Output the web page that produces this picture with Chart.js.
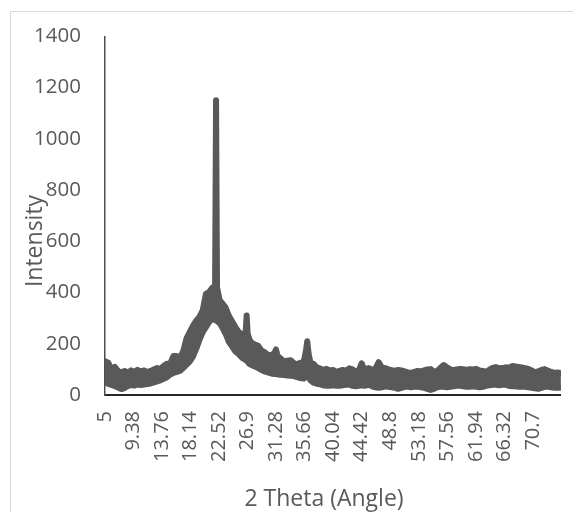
<!DOCTYPE html>
<html>
<head>
<meta charset="utf-8">
<script src="https://cdn.jsdelivr.net/npm/chart.js@4.4.1/dist/chart.umd.min.js"></script>
<style>
  html, body { margin: 0; padding: 0; background: #fff; }
  canvas { display: block; }
</style>
</head>
<body>
<canvas id="xrd" width="573" height="512"></canvas>
<script>
// 2 Theta (deg) sample points, with upper / lower edge of the noisy trace
const theta = [
  5, 5.5, 6, 6.5, 7, 7.5, 8, 8.5, 9, 9.5, 10, 10.5, 11, 11.5, 12, 12.5, 13, 13.5, 14, 14.5,
  15, 15.5, 16, 16.5, 17, 17.5, 18, 18.5, 19, 19.5, 20, 20.5, 21, 21.5, 21.9, 22.05, 22.2, 22.6,
  23, 23.5, 24, 24.5, 25, 25.5, 26, 26.4, 26.6, 26.75, 26.9, 27.2, 27.6, 28, 28.5, 29, 29.5,
  30, 30.5, 31, 31.25, 31.5, 32, 32.5, 33, 33.5, 34, 34.5, 35, 35.5, 35.85, 36.05, 36.25, 36.6,
  37, 37.5, 38, 38.5, 39, 39.5, 40, 40.5, 41, 41.5, 42, 42.5, 43, 43.5, 44, 44.4, 44.8, 45.5,
  46, 46.5, 47, 47.5, 48, 48.5, 49, 49.5, 50, 50.5, 51, 51.5, 52, 52.5, 53, 53.5, 54, 54.5,
  55, 55.5, 56, 56.5, 57, 57.5, 58, 58.5, 59, 59.5, 60, 60.5, 61, 61.5, 62, 62.5, 63, 63.5,
  64, 64.5, 65, 65.5, 66, 66.5, 67, 67.5, 68, 68.5, 69, 69.5, 70, 70.5, 71, 71.5, 72, 72.5,
  73, 73.5, 74, 74.5, 75
];

const upper = [
  132, 126, 100, 110, 94, 88, 94, 87, 96, 90, 98, 92, 96, 89, 94, 100, 105, 102, 113, 122,
  122, 152, 152, 145, 170, 220, 245, 270, 290, 305, 330, 395, 402, 420, 425, 1150, 420, 370,
  358, 342, 310, 288, 266, 246, 238, 236, 250, 310, 240, 215, 202, 197, 193, 174, 167,
  157, 154, 164, 178, 152, 142, 130, 134, 136, 124, 120, 126, 128, 172, 210, 162, 120,
  122, 108, 104, 98, 102, 96, 98, 90, 94, 98, 94, 104, 100, 90, 98, 124, 100, 105,
  98, 102, 128, 108, 105, 100, 97, 94, 98, 96, 92, 88, 86, 90, 94, 92, 96, 100,
  101, 90, 94, 106, 117, 108, 100, 97, 100, 102, 101, 98, 101, 100, 102, 96, 94, 90,
  98, 106, 109, 104, 105, 108, 106, 113, 111, 109, 107, 105, 102, 96, 88, 92, 98, 101,
  95, 90, 86, 88, 86
];

const lower = [
  50, 43, 39, 35, 29, 23, 27, 35, 39, 37, 41, 39, 41, 43, 45, 49, 53, 57, 63, 69,
  80, 86, 90, 94, 105, 118, 130, 150, 180, 215, 245, 265, 285, 300, 292, 290, 288, 280,
  264, 240, 208, 190, 170, 160, 146, 140, 136, 134, 130, 121, 116, 111, 106, 98, 92,
  88, 84, 82, 82, 80, 79, 78, 76, 75, 74, 70, 66, 64, 76, 82, 68, 56,
  48, 44, 42, 38, 36, 36, 38, 36, 36, 38, 40, 40, 36, 34, 36, 38, 36, 40,
  34, 30, 28, 30, 34, 32, 30, 28, 24, 28, 32, 32, 30, 32, 32, 30, 28, 24,
  20, 24, 30, 32, 32, 30, 32, 34, 36, 36, 34, 32, 32, 34, 32, 30, 32, 36,
  38, 40, 40, 38, 40, 40, 36, 34, 34, 32, 32, 32, 30, 28, 26, 24, 28, 32,
  32, 30, 28, 28, 28
];

const xTicks = [5, 9.38, 13.76, 18.14, 22.52, 26.9, 31.28, 35.66, 40.04, 44.42, 48.8, 53.18, 57.56, 61.94, 66.32, 70.7];
const yTicks = [0, 200, 400, 600, 800, 1000, 1200, 1400];

const GREY = "#595959";
const FONT = "'Open Sans', 'DejaVu Sans', sans-serif";

Chart.defaults.font.family = FONT;
Chart.defaults.color = GREY;

// frame + axis titles (titles overlap tick labels in the original, so drawn by hand)
const decor = {
  id: "decor",
  beforeDraw(chart) {
    const ctx = chart.ctx;
    ctx.save();
    ctx.fillStyle = "#fff";
    ctx.fillRect(0, 0, chart.width, chart.height);
    ctx.strokeStyle = "#d9d9d9";
    ctx.lineWidth = 1;
    ctx.strokeRect(10.5, 11.5, 700, 700);
    ctx.restore();
  },
  afterDraw(chart) {
    const ctx = chart.ctx;
    ctx.save();
    ctx.fillStyle = GREY;
    ctx.font = "23px " + FONT;
    ctx.textAlign = "center";
    ctx.textBaseline = "alphabetic";
    ctx.fillText("2 Theta (Angle)", 324, 506);

    ctx.translate(42, 241);
    ctx.rotate(-Math.PI / 2);
    ctx.fillText("Intensity", 0, 0);
    ctx.restore();
  }
};

const line = (vals) => theta.map((t, i) => ({ x: t, y: vals[i] }));

new Chart(document.getElementById("xrd"), {
  type: "line",
  data: {
    datasets: [
      {
        data: line(upper),
        borderColor: GREY,
        borderWidth: 6,
        pointRadius: 0,
        fill: false
      },
      {
        data: line(lower),
        borderColor: GREY,
        borderWidth: 6,
        pointRadius: 0,
        backgroundColor: GREY,
        fill: "-1"
      }
    ]
  },
  options: {
    responsive: false,
    animation: false,
    layout: { padding: { top: 32, right: 1, left: 0, bottom: 0 } },
    elements: { line: { tension: 0, borderJoinStyle: "round", borderCapStyle: "round" } },
    plugins: { legend: { display: false }, tooltip: { enabled: false } },
    scales: {
      x: {
        type: "linear",
        min: 5,
        max: 75,
        afterBuildTicks: (s) => { s.ticks = xTicks.map(v => ({ value: v })); },
        afterFit: (s) => { s.height = 117; },
        grid: { display: false, drawTicks: false },
        border: { display: true, color: "#262626", width: 2 },
        ticks: {
          minRotation: 90,
          maxRotation: 90,
          autoSkip: false,
          padding: 16,
          font: { size: 20 },
          color: GREY,
          callback: (v) => String(v)
        }
      },
      y: {
        min: 0,
        max: 1400,
        afterBuildTicks: (s) => { s.ticks = yTicks.map(v => ({ value: v })); },
        afterFit: (s) => { s.width = 105; },
        grid: { display: false, drawTicks: false },
        border: { display: true, color: "#4d4d4d", width: 1.5 },
        ticks: {
          padding: 24,
          font: { size: 20.5 },
          color: GREY,
          callback: (v) => String(v)
        }
      }
    }
  },
  plugins: [decor]
});
</script>
</body>
</html>
